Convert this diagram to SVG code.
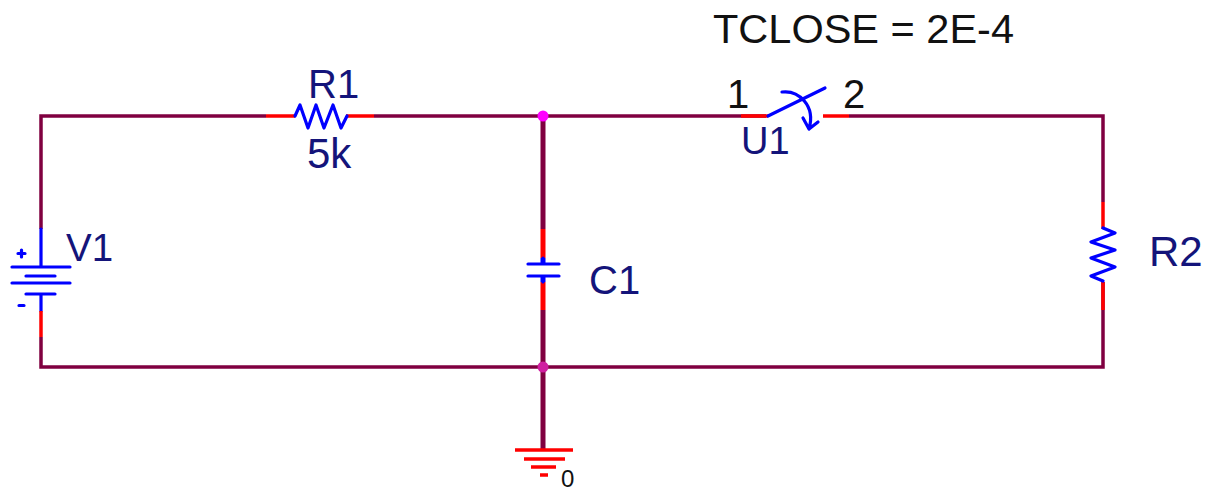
<svg xmlns="http://www.w3.org/2000/svg" width="1212" height="492" viewBox="0 0 1212 492">
<style>
text{font-family:"Liberation Sans",Arial,sans-serif;font-size:40px;fill:#14147a}
.k{fill:#111}
.w{fill:none;stroke:#800040;stroke-width:3.5}
.wt{fill:none;stroke:#800040;stroke-width:5}
.p{fill:none;stroke:#ff0000;stroke-width:3.5}
.pt{fill:none;stroke:#ff0000;stroke-width:5}
.b{fill:none;stroke:#0000ff;stroke-width:3.2;stroke-linecap:round;stroke-linejoin:round}
</style>
<rect width="1212" height="492" fill="#fff"/>
<g id="connectors">
<path class="w" d="M41 229V116H266M374 116H766M849 116H1103V202M1103 282V367H41V337"/>
<path class="wt" d="M543 116V229M543 310V450"/>
<circle cx="543" cy="116" r="5.500" fill="#ff00ff"/>
<circle cx="543" cy="367" r="5.500" fill="#d020a0"/>
</g>
<g id="V1">
<path class="b" d="M41 229V266M12 267H70M26 276H55M12 283H70M26 294H55M41 294V311"/>
<path class="p" d="M41 311V337"/>
<path class="b" stroke-width="3" d="M18 253.500H25M21.500 250V257M19 305.500H24"/>
<text x="66" y="261" style="font-size:38.500px">V1</text>
</g>
<g id="R1">
<path class="p" d="M266 116H295M346 116H374"/>
<path class="b" d="M295 116L300 105L308 128L316 105L324 128L333 105L341 128L347 116"/>
<text x="308" y="98">R1</text>
<text x="307" y="168" style="font-size:42px">5k</text>
</g>
<g id="C1">
<path class="pt" d="M543 229V258M543 282V310"/>
<path class="b" d="M543 258V264M528 264H559M528 276H559M543 276V282"/>
<path d="M543 258V264M543 276V282" fill="none" stroke="#0000ff" stroke-width="5"/>
<text x="589" y="294">C1</text>
</g>
<g id="U1">
<path class="p" d="M741 116H768M823 116H849"/>
<path class="b" d="M768 116L825 88M782 92C798 90 816 105 809 129M803 118L809 129L818 122"/>
<text class="k" x="727" y="108" style="font-size:40px">1</text>
<text class="k" x="843" y="108" style="font-size:40px">2</text>
<text x="741" y="154" style="font-size:38px">U1</text>
<text class="k" x="713" y="43" style="font-size:41.500px">TCLOSE = 2E-4</text>
</g>
<g id="R2">
<path class="p" d="M1103 202V229M1103 282V310"/>
<path class="b" d="M1103 228L1115 233L1091 242L1115 250L1091 258L1115 267L1091 276L1103 281"/>
<text x="1149" y="266" style="font-size:42px">R2</text>
</g>
<g id="ground">
<path class="p" d="M515 450H573M524 459H565M531 467H556M540 475H548"/>
<text class="k" x="561" y="486.500" style="font-size:24px">0</text>
</g>
</svg>
